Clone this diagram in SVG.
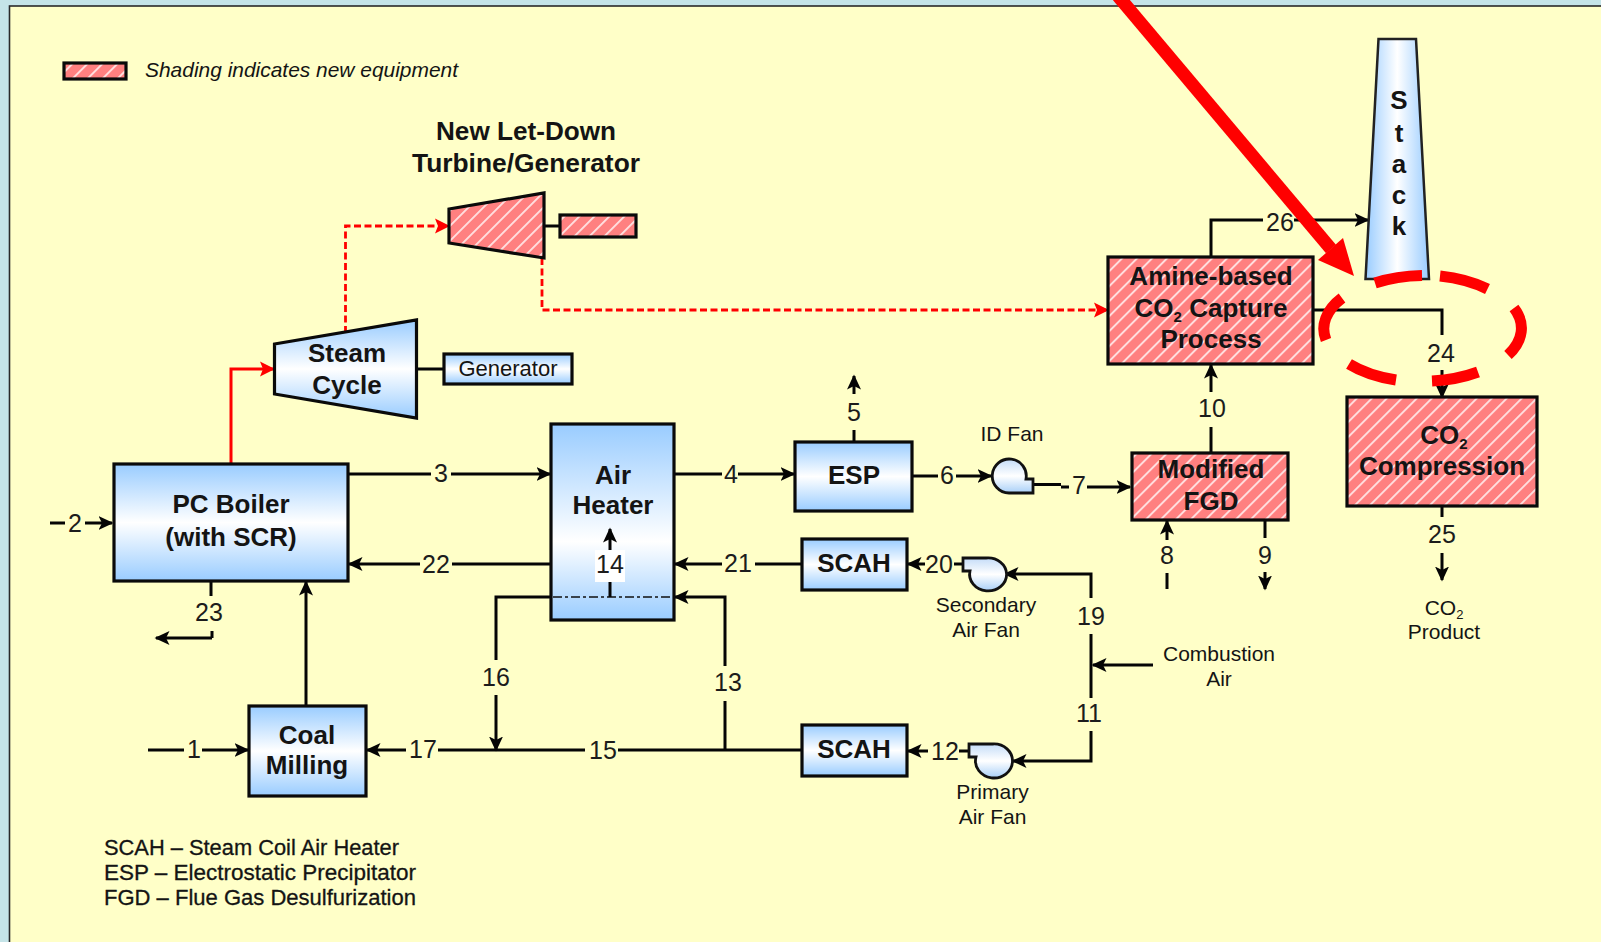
<svg xmlns="http://www.w3.org/2000/svg" width="1601" height="942" viewBox="0 0 1601 942">
<style>
text{font-family:"Liberation Sans",Arial,sans-serif;fill:#141414;text-anchor:middle}
.b{font-weight:bold;font-size:26px}
.n{font-size:25px;fill:#1c1c1c}
.s{font-size:21px}
.k{font-size:22px;text-anchor:start;stroke:#141414;stroke-width:.3}
.box{stroke:#0a0a0a;stroke-width:3.2;stroke-linejoin:miter}
.blue{fill:url(#bg)}
.pink{fill:url(#hatch)}
.fan{fill:url(#fg);stroke:#111;stroke-width:2.8}
.c{fill:none;stroke:#050505;stroke-width:3}
.a{marker-end:url(#ah)}
.r{fill:none;stroke:#f00;stroke-width:3;marker-end:url(#rh)}
.rd{stroke-width:2.8;stroke-dasharray:7 3.5}
</style>
<defs>
<linearGradient id="bg" x1="0" y1="0" x2="0" y2="1"><stop offset="0" stop-color="#99ccff"/><stop offset=".5" stop-color="#fff"/><stop offset="1" stop-color="#99ccff"/></linearGradient>
<linearGradient id="ahg" x1="0" y1="0" x2="0" y2="1"><stop offset="0" stop-color="#99ccff"/><stop offset=".6" stop-color="#fff"/><stop offset="1" stop-color="#99ccff"/></linearGradient>
<linearGradient id="fg" x1="0" y1="0" x2="0" y2="1"><stop offset="0" stop-color="#c4dcf8"/><stop offset=".5" stop-color="#fff"/><stop offset="1" stop-color="#a8cff8"/></linearGradient>
<linearGradient id="sg" x1="0" y1="0" x2="1" y2="0"><stop offset="0" stop-color="#99ccff"/><stop offset=".5" stop-color="#fff"/><stop offset="1" stop-color="#99ccff"/></linearGradient>
<pattern id="hatch" patternUnits="userSpaceOnUse" width="10.600" height="10.600" patternTransform="rotate(45)">
<rect width="10.600" height="10.600" fill="#ff8080"/><rect x="0" width="1.800" height="10.600" fill="#ffe4e4"/>
</pattern>
<marker id="ah" markerUnits="userSpaceOnUse" markerWidth="16" markerHeight="16" refX="13.500" refY="7.500" orient="auto"><path d="M0 0.500L15 7.500L0 14.500L3.500 7.500Z" fill="#050505"/></marker>
<marker id="rh" markerUnits="userSpaceOnUse" markerWidth="17" markerHeight="17" refX="14" refY="8" orient="auto"><path d="M0 0.500L15 8L0 15.500L3 8Z" fill="#f00"/></marker>
</defs>

<rect width="1601" height="942" fill="#c5e4e8"/>
<rect x="9.500" y="6" width="1600" height="950" fill="#ffffc8" stroke="#2a2a2a" stroke-width="1.600"/>

<g id="legend">
<rect class="box pink" x="64" y="63" width="62" height="16"/>
<text x="145" y="77" style="text-anchor:start;font-style:italic;font-size:21px" textLength="313" lengthAdjust="spacingAndGlyphs">Shading indicates new equipment</text>
</g>

<g id="connectors">
<path class="r rd" d="M345.500 333V226H449"/>
<path class="r rd" d="M542 258V310H1108"/>
<path class="r" d="M231 464V369H274"/>
<path class="c" d="M544 226H560M416 369H444"/>

<path class="c" d="M50 523H65"/>
<path class="c a" d="M85 523H112"/>
<text class="n" x="75" y="532">2</text>

<path class="c" d="M348 474H431"/>
<path class="c a" d="M451 474H550"/>
<text class="n" x="441" y="482">3</text>

<path class="c" d="M551 564H452"/>
<path class="c a" d="M420 564H349"/>
<text class="n" x="436" y="573">22</text>

<path class="c" d="M211 582V596M212 631V638"/>
<path class="c a" d="M212 638H156"/>
<text class="n" x="209" y="621">23</text>

<path class="c a" d="M306 705V582"/>

<path class="c" d="M148 750H184"/>
<path class="c a" d="M202 750H248"/>
<text class="n" x="194" y="758">1</text>

<path class="c a" d="M406 750H367"/>
<text class="n" x="423" y="758">17</text>
<path class="c" d="M438 750H585M618 750H802"/>
<text class="n" x="603" y="759">15</text>

<path class="c" d="M551 597H496V660"/>
<path class="c a" d="M496 695V750"/>
<text class="n" x="496" y="686">16</text>

<path class="c" d="M725 750V701"/>
<path class="c a" d="M725 666V597H675"/>
<text class="n" x="728" y="691">13</text>

<path class="c" d="M674 474H722"/>
<path class="c a" d="M738 474H794"/>
<text class="n" x="731" y="483">4</text>

<path class="c" d="M854 442V430"/>
<path class="c a" d="M854 394V376"/>
<text class="n" x="854" y="421">5</text>

<path class="c" d="M802 564H755"/>
<path class="c a" d="M722 564H675"/>
<text class="n" x="738" y="572">21</text>

<path class="c" d="M912 476H938"/>
<path class="c a" d="M956 476H991"/>
<text class="n" x="947" y="484">6</text>

<path class="c" d="M1033 484.500H1061M1061 487H1069"/>
<path class="c a" d="M1087 487H1130"/>
<text class="n" x="1079" y="494">7</text>

<path class="c a" d="M1167 540V521"/>
<path class="c" d="M1167 573V589"/>
<text class="n" x="1167" y="564">8</text>

<path class="c" d="M1265 521V538"/>
<path class="c a" d="M1265 572V589"/>
<text class="n" x="1265" y="564">9</text>

<path class="c" d="M1211 453V427"/>
<path class="c a" d="M1211 392V365"/>
<text class="n" x="1212" y="417">10</text>

<path class="c" d="M1211 257V220H1263"/>
<path class="c a" d="M1294 220H1368"/>
<text class="n" x="1280" y="231">26</text>

<path class="c" d="M1314 310H1442V335"/>
<path class="c a" d="M1442 370V397"/>
<text class="n" x="1441" y="362">24</text>

<path class="c" d="M1442 506V517"/>
<path class="c a" d="M1442 553V580"/>
<text class="n" x="1442" y="543">25</text>

<path class="c a" d="M925 564H908"/>
<path class="c" d="M954 564H963"/>
<text class="n" x="939" y="573">20</text>

<path class="c a" d="M1091 598V574H1005"/>
<text class="n" x="1091" y="625">19</text>
<path class="c" d="M1091 634V698"/>
<text class="n" x="1089" y="722">11</text>
<path class="c a" d="M1091 731V761H1013"/>
<path class="c a" d="M1153 665H1093"/>

<path class="c a" d="M928 751H908"/>
<path class="c" d="M959 751H969"/>
<text class="n" x="945" y="760">12</text>
</g>

<g id="let-down-title"><text class="b" x="526" y="140" textLength="180" lengthAdjust="spacingAndGlyphs">New Let-Down</text><text class="b" x="526" y="172" textLength="228" lengthAdjust="spacingAndGlyphs">Turbine/Generator</text></g>
<g id="let-down-turbine"><path class="box pink" d="M449 209L544 193V258L449 243Z"/></g>
<g id="let-down-generator"><rect class="box pink" x="560" y="215" width="76" height="22"/></g>

<g id="steam-cycle"><path class="box blue" d="M274.500 344L416.500 320V418L274.500 394Z"/><text class="b" x="347" y="362">Steam</text><text class="b" x="347" y="394">Cycle</text></g>
<g id="generator"><rect class="box blue" x="444" y="354" width="128" height="30"/><text x="508" y="376" style="font-size:22px">Generator</text></g>

<g id="pc-boiler"><rect class="box blue" x="114" y="464" width="234" height="117"/><text class="b" x="231" y="513">PC Boiler</text><text class="b" x="231" y="546">(with SCR)</text></g>

<g id="air-heater"><rect class="box" fill="url(#ahg)" x="551" y="424" width="123" height="196"/><text class="b" x="613" y="484">Air</text><text class="b" x="613" y="514">Heater</text>
<path d="M553 597H672" fill="none" stroke="#111" stroke-width="1.400" stroke-dasharray="9 3 3 3"/>
<path class="c a" d="M610 597V529"/>
<rect x="595" y="550" width="30" height="32" fill="#fff"/><text class="n" x="610" y="573">14</text></g>

<g id="coal-milling"><rect class="box blue" x="249" y="706" width="117" height="90"/><text class="b" x="307" y="744">Coal</text><text class="b" x="307" y="774">Milling</text></g>
<g id="esp"><rect class="box blue" x="795" y="442" width="117" height="69"/><text class="b" x="854" y="484">ESP</text></g>
<g id="scah-1"><rect class="box blue" x="802" y="539" width="105" height="51"/><text class="b" x="854" y="572">SCAH</text></g>
<g id="scah-2"><rect class="box blue" x="802" y="725" width="105" height="51"/><text class="b" x="854" y="758">SCAH</text></g>

<g id="id-fan"><path class="fan" d="M1033 493V479H1026A17 17 0 1 0 1009 493Z"/><text class="s" x="1012" y="441">ID Fan</text></g>
<g id="secondary-air-fan"><path class="fan" d="M963 558V571H970A18.500 16.500 0 1 0 986 558Z"/><text class="s" x="986" y="612">Secondary</text><text class="s" x="986" y="637">Air Fan</text></g>
<g id="primary-air-fan"><path class="fan" d="M969 744V757H976A18.500 17 0 1 0 993 744Z"/><text class="s" x="992.500" y="799">Primary</text><text class="s" x="992.500" y="824">Air Fan</text></g>

<g id="modified-fgd"><rect class="box pink" x="1132" y="453" width="156" height="67"/><text class="b" x="1211" y="478">Modified</text><text class="b" x="1211" y="510">FGD</text></g>
<g id="amine-capture"><rect class="box pink" x="1108" y="257" width="205" height="107"/><text class="b" x="1211" y="285">Amine-based</text><text class="b" x="1211" y="317">CO<tspan font-size="15" dy="5">2</tspan><tspan dy="-5"> Capture</tspan></text><text class="b" x="1211" y="348">Process</text></g>
<g id="co2-compression"><rect class="box pink" x="1347" y="397" width="190" height="109"/><text class="b" x="1444" y="444">CO<tspan font-size="15" dy="5">2</tspan></text><text class="b" x="1442" y="475">Compression</text></g>
<g id="stack"><path d="M1378.500 39H1416L1429 279H1365.500Z" fill="url(#sg)" stroke="#222" stroke-width="2.500"/>
<text class="b" x="1399" y="109">S</text><text class="b" x="1399" y="142">t</text><text class="b" x="1399" y="173">a</text><text class="b" x="1399" y="204">c</text><text class="b" x="1399" y="235">k</text></g>

<g id="combustion-air"><text class="s" x="1219" y="661">Combustion</text><text class="s" x="1219" y="686">Air</text></g>
<g id="co2-product"><text class="s" x="1444" y="615">CO<tspan font-size="13" dy="4">2</tspan></text><text class="s" x="1444" y="639">Product</text></g>

<g id="abbreviations">
<text class="k" x="104" y="855" textLength="295" lengthAdjust="spacingAndGlyphs">SCAH – Steam Coil Air Heater</text>
<text class="k" x="104" y="880" textLength="312" lengthAdjust="spacingAndGlyphs">ESP – Electrostatic Precipitator</text>
<text class="k" x="104" y="905" textLength="312" lengthAdjust="spacingAndGlyphs">FGD – Flue Gas Desulfurization</text>
</g>

<g id="annotation">
<path d="M1118 -4L1331 249" fill="none" stroke="#f00" stroke-width="13"/>
<path d="M1354 276L1343 238L1318 260Z" fill="#f00"/>
<path d="M1375 283A98 53 0 0 1 1422 275.500M1440 276A98 53 0 0 1 1487.500 289M1514 308A98 53 0 0 1 1508 355M1478 372A98 53 0 0 1 1432 381M1396 380A98 53 0 0 1 1349 364M1326 340A98 53 0 0 1 1342 298" fill="none" stroke="#f00" stroke-width="11"/>
</g>
</svg>
